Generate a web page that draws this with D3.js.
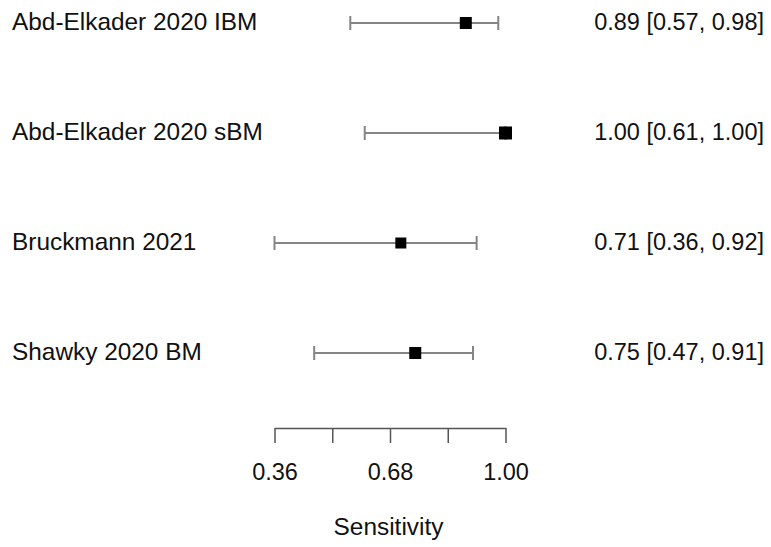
<!DOCTYPE html>
<html>
<head>
<meta charset="utf-8">
<script src="https://cdn.jsdelivr.net/npm/d3@7"></script>
<style>
  html, body { margin: 0; padding: 0; background: #fff; }
  text { font-family: "Liberation Sans", Arial, sans-serif; }
</style>
</head>
<body>
<svg id="chart" width="771" height="547"></svg>
<script>
const studies = ["Abd-Elkader 2020 IBM", "Abd-Elkader 2020 sBM", "Bruckmann 2021", "Shawky 2020 BM"];
const estimates = [0.89, 1.00, 0.71, 0.75];
const lower = [0.57, 0.61, 0.36, 0.47];
const upper = [0.98, 1.00, 0.92, 0.91];
const weights = [12, 13, 11, 12];
const tickValues = [0.36, 0.52, 0.68, 0.84, 1.00];
const tickLabels = ["0.36", "", "0.68", "", "1.00"];
const axisTitle = "Sensitivity";

const svg = d3.select("#chart");
const fs = 23.5;
const fsLabel = 24.4;

const x = d3.scaleLinear().domain([0.36, 1.00]).range([274.5, 505.5]);
const y = d3.scalePoint().domain(studies).range([23, 353]);

// error bars
const g = svg.append("g");
studies.forEach((s, i) => {
  const yy = y(s);
  g.append("line").attr("x1", x(lower[i])).attr("x2", x(upper[i]))
    .attr("y1", yy).attr("y2", yy).attr("stroke", "#858585").attr("stroke-width", 2);
  [lower[i], upper[i]].forEach(v => {
    g.append("line").attr("x1", x(v)).attr("x2", x(v))
      .attr("y1", yy - 7).attr("y2", yy + 7).attr("stroke", "#858585").attr("stroke-width", 2);
  });
  const w = weights[i];
  g.append("rect").attr("x", x(estimates[i]) - w / 2).attr("y", yy - w / 2)
    .attr("width", w).attr("height", w).attr("fill", "#000");
  svg.append("text").attr("x", 12).attr("y", yy + 6.5)
    .attr("font-size", fsLabel).attr("fill", "#111").text(s);
  svg.append("text").attr("x", 764).attr("y", yy + 6.5).attr("text-anchor", "end")
    .attr("font-size", fs).attr("fill", "#111")
    .text(`${estimates[i].toFixed(2)} [${lower[i].toFixed(2)}, ${upper[i].toFixed(2)}]`);
});

// axis
const axis = d3.axisBottom(x).tickValues(tickValues)
  .tickFormat((d, i) => tickLabels[i]).tickSize(15).tickSizeOuter(0).tickPadding(20);
const ag = svg.append("g").attr("transform", "translate(0,428)").call(axis);
ag.select(".domain").attr("stroke", "#555").attr("stroke-width", 1.5);
ag.selectAll(".tick line").attr("stroke", "#555").attr("stroke-width", 1.5);
ag.selectAll(".tick text").attr("font-size", fs).attr("fill", "#111")
  .attr("font-family", "'Liberation Sans', Arial, sans-serif");

svg.append("text").attr("x", 388.5).attr("y", 535).attr("text-anchor", "middle")
  .attr("font-size", fsLabel).attr("fill", "#111").text(axisTitle);
</script>
</body>
</html>
